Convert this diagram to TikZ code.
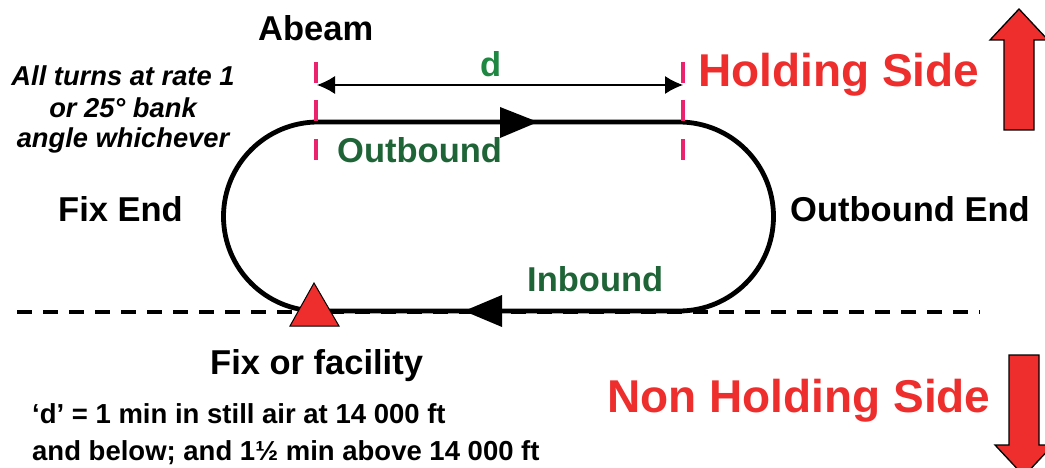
\documentclass[tikz,border=0pt]{standalone}
\usepackage{fontspec}
\setmainfont{Liberation Sans}
\usetikzlibrary{arrows.meta}
\definecolor{hred}{RGB}{238,45,45}
\definecolor{mpink}{RGB}{235,35,110}
\definecolor{dgreen}{RGB}{30,100,55}
\definecolor{lgreen}{RGB}{30,135,65}
\tikzset{
  lbl/.style={inner sep=0pt, anchor=base west, font=\bfseries\fontsize{34.5}{40}\selectfont},
  sidelbl/.style={inner sep=0pt, anchor=base west, text=hred, font=\bfseries\fontsize{46}{50}\selectfont},
  notelbl/.style={inner sep=0pt, anchor=base west, font=\bfseries\fontsize{27.5}{34}\selectfont},
  itlbl/.style={inner sep=0pt, anchor=base, font=\bfseries\itshape\fontsize{27.3}{32}\selectfont},
  marker/.style={mpink, line width=4.5pt},
  track/.style={line width=4.8pt},
  blockarrow/.style={fill=hred, draw=black, line width=1.3pt, line join=miter},
  dimline/.style={line width=1.3pt, {Latex[length=18pt,width=18pt]}-{Latex[length=18pt,width=18pt]}},
}
\begin{document}
\begin{tikzpicture}[x=1pt,y=-1pt]
\useasboundingbox (0,0) rectangle (1045,468);
% reference (dashed) line
\draw[line width=3.5pt, dash pattern=on 15pt off 11pt] (17,312) -- (980,312);
% racetrack
\draw[track] (318,122) -- (679,122) arc[start angle=90, end angle=-90, radius=94.5pt]
  -- (318,311) arc[start angle=270, end angle=90, radius=94.5pt] -- cycle;
% direction arrowheads
\fill (500,107) -- (538,122) -- (500,138) -- cycle;
\fill (502,295) -- (464,311) -- (502,327) -- cycle;
% fix triangle
\draw[fill=hred, line width=1pt, line join=miter] (314,283) -- (339,326) -- (290,326) -- cycle;
% abeam markers
\foreach \mx in {316,683} {
  \draw[marker] (\mx,62) -- (\mx,83);
  \draw[marker] (\mx,100) -- (\mx,121);
  \draw[marker] (\mx,139) -- (\mx,160);
}
% d dimension
\coordinate (dl) at (317,85);
\coordinate (dr) at (683,85);
\draw[dimline] (dl) -- (dr);
% block arrows
\draw[blockarrow] (1019,9) -- (1048,40) -- (1034,40) -- (1034,130) -- (1004,130) -- (1004,40) -- (990,40) -- cycle;
\draw[blockarrow] (1009,355) -- (1039,355) -- (1039,445) -- (1053,445) -- (1024,476) -- (995,445) -- (1009,445) -- cycle;
% labels
\node[lbl] (abeam) at (258,41) {Abeam};
\node[lbl, text=lgreen] (dlab) at (480,77) {d};
\node[sidelbl] (hs) at (698,87) {Holding Side};
\node[lbl, text=dgreen] (ob) at (337,163) {Outbound};
\node[lbl] (fe) at (58,222) {Fix End};
\node[lbl] (oe) at (790,222) {Outbound End};
\node[lbl, text=dgreen] (ib) at (527,291) {Inbound};
\node[lbl] (ff) at (210,374) {Fix or facility};
\node[sidelbl] (nhs) at (607,412) {Non Holding Side};
\node[itlbl] (it1) at (123,86) {All turns at rate 1};
\node[itlbl] (it2) at (123,118) {or 25° bank};
\node[itlbl] (it3) at (123,148) {angle whichever};
\node[notelbl] (n1) at (32,423) {‘d’ = 1 min in still air at 14 000 ft};
\node[notelbl] (n2) at (32,460) {and below; and 1½ min above 14 000 ft};
\end{tikzpicture}
\end{document}
